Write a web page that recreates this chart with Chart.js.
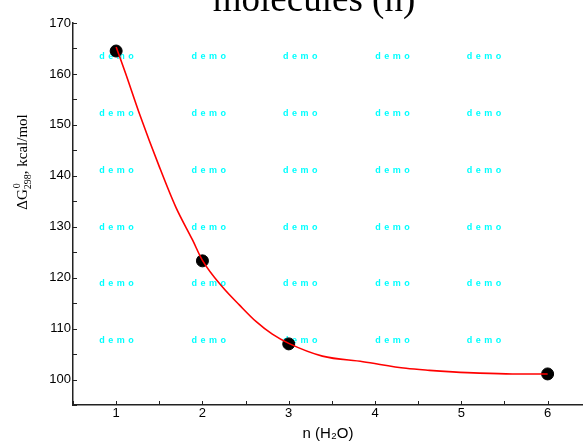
<!DOCTYPE html>
<html>
<head>
<meta charset="utf-8">
<script src="https://cdn.jsdelivr.net/npm/chart.js@4.4.1/dist/chart.umd.min.js"></script>
<style>
  html, body { margin: 0; padding: 0; background: #fff; overflow: hidden; }
  #wrap { position: relative; width: 583px; height: 443px; }
</style>
</head>
<body>
<div id="wrap"><canvas id="dgChart"></canvas></div>
<script>
// measured points
const nWater = [1, 2, 3, 6];
const deltaG = [164.5, 123.3, 107.0, 101.1];

// fitted red curve
const fitN = [1, 1.11, 1.27, 1.5, 1.69, 1.885, 2, 2.23, 2.43, 2.62, 2.81, 3, 3.39, 3.86, 4.36, 4.63, 4.9, 5.21, 5.59, 6];
const fitG = [165.3, 160.1, 152.2, 141.8, 133.9, 127.4, 123.4, 118.2, 114.6, 111.4, 108.9, 107.1, 104.6, 103.5, 102.2, 101.8, 101.5, 101.25, 101.1, 101.1];

const xTicks = [1, 2, 3, 4, 5, 6];
const yTicks = [100, 110, 120, 130, 140, 150, 160, 170];
const demoCols = [1, 2.07, 3.13, 4.2, 5.26];
const demoRows = [163.5, 152.3, 141.1, 129.9, 118.8, 107.6];

// watermark, cropped title, rotated y label, inner tick marks
const extras = {
  id: "extras",
  beforeDatasetsDraw(chart) {
    const { ctx, scales: { x, y } } = chart;
    ctx.save();
    ctx.fillStyle = "rgb(0,255,255)";
    ctx.font = "bold 9px 'Liberation Sans'";
    ctx.letterSpacing = "3.5px";
    ctx.textAlign = "center";
    ctx.textBaseline = "middle";
    demoCols.forEach(c => demoRows.forEach(r => {
      ctx.fillText("demo", x.getPixelForValue(c) + 2, y.getPixelForValue(r));
    }));
    ctx.restore();
  },
  afterDraw(chart) {
    const { ctx, chartArea: a, scales: { x, y } } = chart;
    ctx.save();
    ctx.strokeStyle = "#222";
    ctx.lineWidth = 1;
    for (let v = 95; v <= 170; v += 5) {
      const py = Math.round(y.getPixelForValue(v)) + 0.5;
      ctx.beginPath(); ctx.moveTo(a.left, py); ctx.lineTo(a.left + 4, py); ctx.stroke();
    }
    for (let v = 0.5; v < x.max; v += 0.5) {
      const px = Math.round(x.getPixelForValue(v)) + 0.5;
      ctx.beginPath(); ctx.moveTo(px, a.bottom); ctx.lineTo(px, a.bottom - 4); ctx.stroke();
    }

    // title, cut by the top edge
    ctx.fillStyle = "#000";
    ctx.font = "37px 'Liberation Serif'";
    ctx.textAlign = "center";
    ctx.textBaseline = "alphabetic";
    ctx.fillText("molecules (n)", 314, 11);

    // y axis title
    ctx.translate(27, 162);
    ctx.rotate(-Math.PI / 2);
    ctx.textAlign = "left";
    const big = "15px 'Liberation Serif'";
    const small = "10px 'Liberation Serif'";
    ctx.font = big;
    const wBase = ctx.measureText("\u0394G").width;
    const wTail = ctx.measureText(", kcal/mol").width;
    ctx.font = small;
    const wSub = ctx.measureText("298").width;
    let sx = -(wBase + wSub + wTail) / 2;
    ctx.font = big;
    ctx.fillText("\u0394G", sx, 0);
    sx += wBase;
    ctx.font = small;
    ctx.fillText("0", sx + 1, -7);
    ctx.fillText("298", sx, 4);
    sx += wSub;
    ctx.font = big;
    ctx.fillText(", kcal/mol", sx, 0);
    ctx.restore();
  }
};

new Chart(document.getElementById("dgChart"), {
  type: "scatter",
  data: {
    datasets: [
      {
        label: "fit",
        data: fitN.map((n, i) => ({ x: n, y: fitG[i] })),
        showLine: true,
        borderColor: "#ff0000",
        borderWidth: 1.6,
        pointRadius: 0,
        cubicInterpolationMode: "monotone",
        order: 1
      },
      {
        label: "dG",
        data: nWater.map((n, i) => ({ x: n, y: deltaG[i] })),
        backgroundColor: "#000",
        borderColor: "#000",
        pointRadius: 6,
        order: 2
      }
    ]
  },
  options: {
    responsive: true,
    maintainAspectRatio: false,
    animation: false,
    layout: { autoPadding: false, padding: { top: 23, right: 0, left: 0, bottom: 0 } },
    plugins: {
      legend: { display: false },
      tooltip: { enabled: false }
    },
    scales: {
      x: {
        type: "linear",
        min: 0.5,
        max: 6.41,
        afterBuildTicks: s => { s.ticks = xTicks.map(v => ({ value: v })); },
        afterFit: s => { s.height = 38; },
        ticks: {
          color: "#000",
          padding: 1,
          font: { family: "'Liberation Sans'", size: 13 }
        },
        grid: { display: false, drawTicks: false },
        border: { color: "#222", width: 1.5 },
        title: {
          display: true,
          text: "n (H\u2082O)",
          color: "#000",
          padding: { top: 2, bottom: 0 },
          font: { family: "'Liberation Sans'", size: 15 }
        }
      },
      y: {
        min: 95,
        max: 170,
        afterBuildTicks: s => { s.ticks = yTicks.map(v => ({ value: v })); },
        afterFit: s => { s.width = 73; },
        ticks: {
          color: "#000",
          padding: 2,
          font: { family: "'Liberation Sans'", size: 13 }
        },
        grid: { display: false, drawTicks: false },
        border: { color: "#222", width: 1.5 }
      }
    }
  },
  plugins: [extras]
});
</script>
</body>
</html>
